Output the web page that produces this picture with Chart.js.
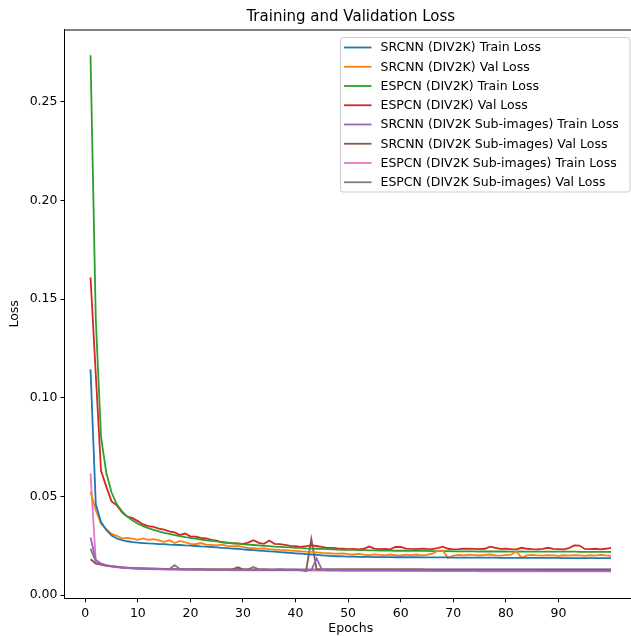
<!DOCTYPE html>
<html>
<head>
<meta charset="utf-8">
<title>Training and Validation Loss</title>
<script src="https://cdn.jsdelivr.net/npm/chart.js@4.4.1/dist/chart.umd.min.js"></script>
<style>
    html, body { margin: 0; padding: 0; background: #fff; overflow: hidden; }
    #lossChart { display: block; }
</style>
</head>
<body>
<canvas id="lossChart" width="645" height="636"></canvas>
<script>
// Epoch numbers (x axis)
const epochs = [
    1, 2, 3, 4, 5, 6, 7, 8, 9, 10, 11, 12, 13, 14, 15, 16, 17, 18, 19, 20,
    21, 22, 23, 24, 25, 26, 27, 28, 29, 30, 31, 32, 33, 34, 35, 36, 37, 38, 39, 40,
    41, 42, 43, 44, 45, 46, 47, 48, 49, 50, 51, 52, 53, 54, 55, 56, 57, 58, 59, 60,
    61, 62, 63, 64, 65, 66, 67, 68, 69, 70, 71, 72, 73, 74, 75, 76, 77, 78, 79, 80,
    81, 82, 83, 84, 85, 86, 87, 88, 89, 90, 91, 92, 93, 94, 95, 96, 97, 98, 99, 100
];

const xTicks = [0, 10, 20, 30, 40, 50, 60, 70, 80, 90];
const yTicks = [0, 0.05, 0.10, 0.15, 0.20, 0.25];

const seriesLabels = [
    'SRCNN (DIV2K) Train Loss',
    'SRCNN (DIV2K) Val Loss',
    'ESPCN (DIV2K) Train Loss',
    'ESPCN (DIV2K) Val Loss',
    'SRCNN (DIV2K Sub-images) Train Loss',
    'SRCNN (DIV2K Sub-images) Val Loss',
    'ESPCN (DIV2K Sub-images) Train Loss',
    'ESPCN (DIV2K Sub-images) Val Loss'
];

const srcnnTrain = [
    0.1145, 0.0460, 0.0370, 0.0330, 0.0302, 0.0287, 0.0279, 0.0273, 0.0269, 0.0266,
    0.0264, 0.0262, 0.0261, 0.0259, 0.0258, 0.0256, 0.0255, 0.0254, 0.0252, 0.0251,
    0.0249, 0.0247, 0.0246, 0.0244, 0.0242, 0.0240, 0.0238, 0.0236, 0.0234, 0.0232,
    0.0230, 0.0228, 0.0226, 0.0224, 0.0222, 0.0220, 0.0218, 0.0216, 0.0214, 0.0212,
    0.0210, 0.0208, 0.0206, 0.0204, 0.0202, 0.0200, 0.0198, 0.0197, 0.0196, 0.0195,
    0.0195, 0.0194, 0.0194, 0.0194, 0.0193, 0.0193, 0.0193, 0.0193, 0.0192, 0.0192,
    0.0192, 0.0192, 0.0192, 0.0191, 0.0191, 0.0191, 0.0191, 0.0191, 0.0191, 0.0190,
    0.0190, 0.0190, 0.0190, 0.0190, 0.0190, 0.0190, 0.0190, 0.0190, 0.0189, 0.0189,
    0.0189, 0.0189, 0.0189, 0.0189, 0.0189, 0.0189, 0.0189, 0.0189, 0.0189, 0.0189,
    0.0188, 0.0188, 0.0188, 0.0188, 0.0188, 0.0188, 0.0188, 0.0188, 0.0188, 0.0188
];

const srcnnVal = [
    0.0523, 0.0430, 0.0362, 0.0335, 0.0310, 0.0300, 0.0288, 0.0290, 0.0286, 0.0280,
    0.0287, 0.0280, 0.0284, 0.0277, 0.0270, 0.0278, 0.0264, 0.0275, 0.0268, 0.0260,
    0.0258, 0.0264, 0.0256, 0.0255, 0.0252, 0.0256, 0.0250, 0.0247, 0.0249, 0.0244,
    0.0240, 0.0238, 0.0236, 0.0237, 0.0233, 0.0231, 0.0229, 0.0228, 0.0226, 0.0224,
    0.0222, 0.0220, 0.0219, 0.0216, 0.0214, 0.0213, 0.0211, 0.0210, 0.0212, 0.0208,
    0.0206, 0.0209, 0.0205, 0.0203, 0.0207, 0.0204, 0.0202, 0.0206, 0.0203, 0.0201,
    0.0205, 0.0203, 0.0206, 0.0202, 0.0204, 0.0210, 0.0224, 0.0226, 0.0188, 0.0200,
    0.0204, 0.0202, 0.0205, 0.0203, 0.0201, 0.0204, 0.0206, 0.0202, 0.0200, 0.0203,
    0.0205, 0.0222, 0.0190, 0.0201, 0.0204, 0.0202, 0.0200, 0.0203, 0.0201, 0.0199,
    0.0202, 0.0200, 0.0203, 0.0201, 0.0199, 0.0202, 0.0200, 0.0204, 0.0201, 0.0199
];

const espcnTrain = [
    0.2735, 0.1400, 0.0800, 0.0620, 0.0520, 0.0460, 0.0425, 0.0398, 0.0378, 0.0362,
    0.0350, 0.0340, 0.0331, 0.0323, 0.0316, 0.0310, 0.0304, 0.0299, 0.0294, 0.0290,
    0.0286, 0.0282, 0.0278, 0.0275, 0.0272, 0.0269, 0.0266, 0.0263, 0.0261, 0.0258,
    0.0256, 0.0254, 0.0252, 0.0250, 0.0248, 0.0246, 0.0245, 0.0243, 0.0242, 0.0240,
    0.0239, 0.0237, 0.0236, 0.0235, 0.0234, 0.0233, 0.0232, 0.0231, 0.0230, 0.0229,
    0.0229, 0.0228, 0.0228, 0.0227, 0.0227, 0.0226, 0.0226, 0.0226, 0.0225, 0.0225,
    0.0225, 0.0224, 0.0224, 0.0224, 0.0224, 0.0223, 0.0223, 0.0223, 0.0223, 0.0222,
    0.0222, 0.0222, 0.0222, 0.0222, 0.0221, 0.0221, 0.0221, 0.0221, 0.0221, 0.0221,
    0.0220, 0.0220, 0.0221, 0.0220, 0.0220, 0.0220, 0.0220, 0.0220, 0.0220, 0.0220,
    0.0220, 0.0220, 0.0220, 0.0219, 0.0219, 0.0219, 0.0219, 0.0219, 0.0219, 0.0219
];

const espcnVal = [
    0.1610, 0.1120, 0.0630, 0.0550, 0.0475, 0.0455, 0.0420, 0.0398, 0.0390, 0.0375,
    0.0358, 0.0350, 0.0346, 0.0337, 0.0332, 0.0323, 0.0318, 0.0305, 0.0312, 0.0298,
    0.0296, 0.0290, 0.0287, 0.0280, 0.0276, 0.0268, 0.0265, 0.0262, 0.0262, 0.0260,
    0.0266, 0.0278, 0.0265, 0.0260, 0.0277, 0.0260, 0.0258, 0.0255, 0.0250, 0.0248,
    0.0245, 0.0248, 0.0252, 0.0249, 0.0244, 0.0240, 0.0240, 0.0237, 0.0236, 0.0233,
    0.0234, 0.0232, 0.0235, 0.0246, 0.0236, 0.0233, 0.0234, 0.0232, 0.0244, 0.0245,
    0.0236, 0.0234, 0.0233, 0.0236, 0.0234, 0.0233, 0.0238, 0.0246, 0.0235, 0.0232,
    0.0233, 0.0236, 0.0235, 0.0234, 0.0233, 0.0235, 0.0246, 0.0240, 0.0234, 0.0236,
    0.0233, 0.0232, 0.0240, 0.0235, 0.0233, 0.0232, 0.0234, 0.0240, 0.0234, 0.0233,
    0.0232, 0.0238, 0.0252, 0.0251, 0.0234, 0.0233, 0.0235, 0.0232, 0.0235, 0.0240
];

const srcnnSubTrain = [
    0.0292, 0.0178, 0.0160, 0.0152, 0.0147, 0.0143, 0.0140, 0.0138, 0.0136, 0.0135,
    0.0134, 0.0133, 0.0133, 0.0132, 0.0132, 0.0131, 0.0131, 0.0130, 0.0130, 0.0130,
    0.0129, 0.0129, 0.0129, 0.0129, 0.0128, 0.0128, 0.0128, 0.0128, 0.0129, 0.0128,
    0.0128, 0.0128, 0.0128, 0.0127, 0.0127, 0.0127, 0.0127, 0.0127, 0.0127, 0.0127,
    0.0127, 0.0127, 0.0127, 0.0186, 0.0130, 0.0126, 0.0126, 0.0126, 0.0126, 0.0126,
    0.0126, 0.0126, 0.0125, 0.0125, 0.0125, 0.0125, 0.0125, 0.0125, 0.0125, 0.0125,
    0.0125, 0.0125, 0.0125, 0.0125, 0.0125, 0.0124, 0.0124, 0.0124, 0.0124, 0.0124,
    0.0124, 0.0124, 0.0124, 0.0124, 0.0124, 0.0124, 0.0124, 0.0124, 0.0124, 0.0124,
    0.0124, 0.0124, 0.0124, 0.0124, 0.0124, 0.0124, 0.0123, 0.0123, 0.0123, 0.0123,
    0.0123, 0.0123, 0.0123, 0.0123, 0.0123, 0.0123, 0.0123, 0.0123, 0.0123, 0.0123
];

const srcnnSubVal = [
    0.0182, 0.0160, 0.0155, 0.0150, 0.0146, 0.0143, 0.0140, 0.0139, 0.0137, 0.0136,
    0.0135, 0.0134, 0.0134, 0.0133, 0.0133, 0.0132, 0.0132, 0.0132, 0.0131, 0.0131,
    0.0131, 0.0131, 0.0130, 0.0130, 0.0130, 0.0130, 0.0130, 0.0131, 0.0142, 0.0131,
    0.0130, 0.0130, 0.0130, 0.0130, 0.0129, 0.0129, 0.0129, 0.0129, 0.0129, 0.0129,
    0.0128, 0.0122, 0.0285, 0.0131, 0.0130, 0.0130, 0.0130, 0.0130, 0.0130, 0.0130,
    0.0130, 0.0130, 0.0130, 0.0130, 0.0130, 0.0130, 0.0130, 0.0130, 0.0130, 0.0130,
    0.0130, 0.0130, 0.0130, 0.0130, 0.0129, 0.0129, 0.0129, 0.0129, 0.0129, 0.0129,
    0.0129, 0.0129, 0.0129, 0.0129, 0.0129, 0.0129, 0.0129, 0.0129, 0.0129, 0.0129,
    0.0129, 0.0129, 0.0129, 0.0129, 0.0129, 0.0129, 0.0129, 0.0129, 0.0129, 0.0129,
    0.0129, 0.0129, 0.0129, 0.0129, 0.0129, 0.0129, 0.0129, 0.0129, 0.0129, 0.0129
];

const espcnSubTrain = [
    0.0616, 0.0172, 0.0155, 0.0148, 0.0144, 0.0141, 0.0139, 0.0137, 0.0135, 0.0134,
    0.0133, 0.0132, 0.0131, 0.0131, 0.0130, 0.0130, 0.0129, 0.0129, 0.0129, 0.0128,
    0.0128, 0.0128, 0.0128, 0.0127, 0.0127, 0.0127, 0.0127, 0.0126, 0.0126, 0.0126,
    0.0126, 0.0126, 0.0126, 0.0125, 0.0125, 0.0125, 0.0125, 0.0125, 0.0125, 0.0125,
    0.0124, 0.0124, 0.0124, 0.0124, 0.0124, 0.0124, 0.0124, 0.0124, 0.0123, 0.0123,
    0.0123, 0.0123, 0.0123, 0.0123, 0.0123, 0.0123, 0.0123, 0.0123, 0.0123, 0.0122,
    0.0122, 0.0122, 0.0122, 0.0122, 0.0122, 0.0122, 0.0122, 0.0122, 0.0122, 0.0122,
    0.0122, 0.0122, 0.0122, 0.0122, 0.0121, 0.0121, 0.0121, 0.0121, 0.0121, 0.0121,
    0.0121, 0.0121, 0.0121, 0.0121, 0.0121, 0.0121, 0.0121, 0.0121, 0.0121, 0.0121,
    0.0121, 0.0121, 0.0121, 0.0121, 0.0121, 0.0121, 0.0121, 0.0121, 0.0121, 0.0121
];

const espcnSubVal = [
    0.0236, 0.0170, 0.0158, 0.0151, 0.0147, 0.0144, 0.0141, 0.0139, 0.0138, 0.0137,
    0.0136, 0.0135, 0.0134, 0.0134, 0.0133, 0.0133, 0.0152, 0.0133, 0.0132, 0.0132,
    0.0132, 0.0132, 0.0131, 0.0131, 0.0131, 0.0131, 0.0131, 0.0131, 0.0133, 0.0131,
    0.0131, 0.0143, 0.0131, 0.0131, 0.0130, 0.0130, 0.0132, 0.0130, 0.0130, 0.0130,
    0.0130, 0.0130, 0.0131, 0.0130, 0.0130, 0.0130, 0.0130, 0.0130, 0.0130, 0.0130,
    0.0130, 0.0130, 0.0130, 0.0130, 0.0130, 0.0130, 0.0130, 0.0130, 0.0130, 0.0130,
    0.0130, 0.0130, 0.0130, 0.0130, 0.0130, 0.0130, 0.0130, 0.0130, 0.0130, 0.0130,
    0.0130, 0.0130, 0.0130, 0.0130, 0.0130, 0.0130, 0.0130, 0.0130, 0.0130, 0.0130,
    0.0130, 0.0130, 0.0130, 0.0130, 0.0130, 0.0130, 0.0130, 0.0130, 0.0130, 0.0130,
    0.0130, 0.0130, 0.0130, 0.0130, 0.0130, 0.0130, 0.0130, 0.0130, 0.0130, 0.0130
];

// matplotlib tab10 colours, same order as the series
const lineColors = ['#1f77b4', '#ff7f0e', '#2ca02c', '#d62728', '#9467bd', '#8c564b', '#e377c2', '#7f7f7f'];

const allSeries = [srcnnTrain, srcnnVal, espcnTrain, espcnVal, srcnnSubTrain, srcnnSubVal, espcnSubTrain, espcnSubVal];

const FONT = 'DejaVu Sans';
const tickFont = { family: FONT, size: 12.5 };

// top spine like matplotlib's box
const frameTop = {
    id: 'frameTop',
    afterDatasetsDraw(chart) {
        const { ctx, chartArea } = chart;
        ctx.save();
        ctx.strokeStyle = '#000';
        ctx.lineWidth = 1;
        ctx.beginPath();
        ctx.moveTo(chartArea.left, chartArea.top + 0.5);
        ctx.lineTo(chartArea.right, chartArea.top + 0.5);
        ctx.moveTo(chartArea.right - 0.5, chartArea.top);
        ctx.lineTo(chartArea.right - 0.5, chartArea.bottom);
        ctx.stroke();
        ctx.restore();
    }
};

// legend box in the upper right, drawn the matplotlib way
const boxLegend = {
    id: 'boxLegend',
    afterDraw(chart) {
        const ctx = chart.ctx;
        const x0 = 340.5, y0 = 37.5, w = 289.5, h = 154.5;
        ctx.save();
        ctx.fillStyle = 'rgba(255,255,255,0.8)';
        ctx.strokeStyle = '#cccccc';
        ctx.lineWidth = 1;
        ctx.beginPath();
        ctx.roundRect(x0, y0, w, h, 2.5);
        ctx.fill();
        ctx.stroke();
        ctx.font = '12.5px "' + FONT + '"';
        ctx.textBaseline = 'middle';
        ctx.fillStyle = '#000';
        chart.data.datasets.forEach((ds, i) => {
            const y = 47.5 + i * 19.25;
            ctx.strokeStyle = ds.borderColor;
            ctx.lineWidth = 1.8;
            ctx.beginPath();
            ctx.moveTo(344, y);
            ctx.lineTo(371.5, y);
            ctx.stroke();
            ctx.fillText(ds.label, 380.5, y + 0.5);
        });
        ctx.restore();
    }
};

const ctx = document.getElementById('lossChart').getContext('2d');
new Chart(ctx, {
    type: 'line',
    data: {
        datasets: allSeries.map((vals, i) => ({
            label: seriesLabels[i],
            data: epochs.map((e, j) => ({ x: e, y: vals[j] })),
            borderColor: lineColors[i],
            backgroundColor: lineColors[i],
            borderWidth: 1.8,
            pointRadius: 0,
            tension: 0,
            fill: false
        }))
    },
    options: {
        responsive: false,
        animation: false,
        layout: { padding: { left: 0, right: 8, top: 0, bottom: 0 } },
        plugins: {
            legend: { display: false },
            tooltip: { enabled: false },
            title: {
                display: true,
                text: 'Training and Validation Loss',
                color: '#000',
                fullSize: false,
                font: { family: FONT, size: 15, weight: 'normal' },
                padding: { top: 8, bottom: 3.5 }
            }
        },
        scales: {
            x: {
                type: 'linear',
                min: -3.95,
                max: 104.95,
                afterBuildTicks: scale => { scale.ticks = xTicks.map(v => ({ value: v })); },
                afterFit: scale => { scale.height = 37.7; },
                ticks: { color: '#000', font: tickFont, padding: 3.5, maxRotation: 0, autoSkip: false },
                grid: { drawOnChartArea: false, color: '#000', tickLength: 4, tickWidth: 1 },
                border: { color: '#000', width: 1 },
                title: { display: true, text: 'Epochs', color: '#000', font: tickFont, padding: 0 }
            },
            y: {
                min: -0.0016,
                max: 0.2866,
                afterBuildTicks: scale => { scale.ticks = yTicks.map(v => ({ value: v })); },
                afterFit: scale => { scale.width = 64.5; },
                ticks: {
                    color: '#000',
                    font: tickFont,
                    padding: 3,
                    callback: v => v.toFixed(2)
                },
                grid: { drawOnChartArea: false, color: '#000', tickLength: 4, tickWidth: 1 },
                border: { color: '#000', width: 1 },
                title: { display: true, text: 'Loss', color: '#000', font: tickFont, padding: { top: 7.5, bottom: 0 } }
            }
        }
    },
    plugins: [frameTop, boxLegend]
});
</script>
</body>
</html>
